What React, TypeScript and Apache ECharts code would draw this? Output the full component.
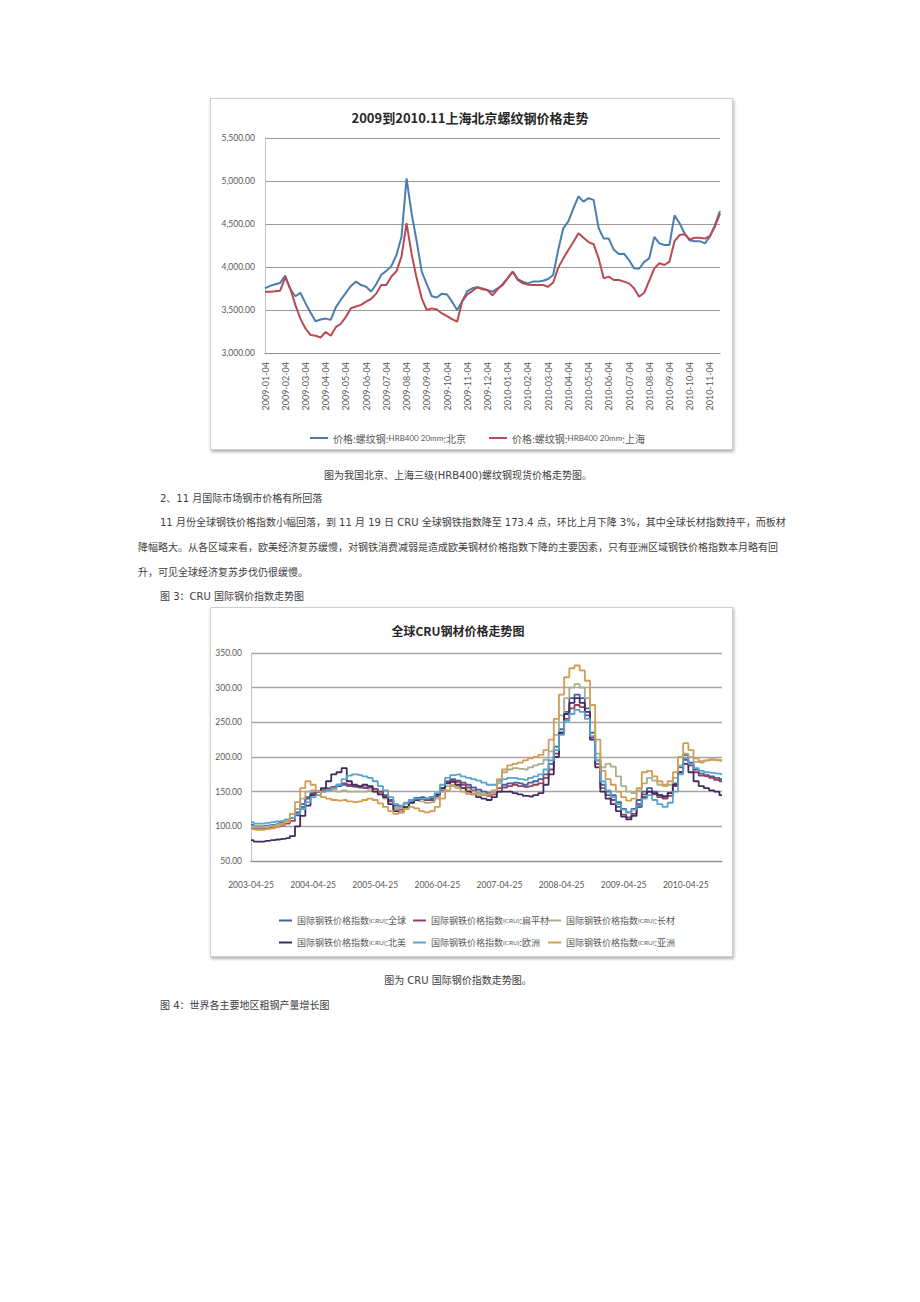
import React, { useEffect, useRef } from "react";
import * as echarts from "echarts";

// ---------- Chart 1 data: Beijing / Shanghai rebar (HRB400 20mm) ----------
const rebarMonths = [
  "2009-01", "2009-02", "2009-03", "2009-04", "2009-05", "2009-06", "2009-07", "2009-08",
  "2009-09", "2009-10", "2009-11", "2009-12", "2010-01", "2010-02", "2010-03", "2010-04",
  "2010-05", "2010-06", "2010-07", "2010-08", "2010-09", "2010-10", "2010-11",
];
const rebarWeekDays = ["04", "11", "19", "26"];
const rebarDates = rebarMonths.flatMap((m) => rebarWeekDays.map((d) => `${m}-${d}`)).slice(0, 91);

const rebarNames = ["价格:螺纹钢:HRB400 20mm:北京", "价格:螺纹钢:HRB400 20mm:上海"];

const beijing = [
  3752, 3780, 3800, 3815, 3900, 3740, 3660, 3700, 3580, 3470, 3370,
  3390, 3400, 3385, 3530, 3620, 3700, 3780, 3830, 3790, 3770,
  3715, 3800, 3910, 3955, 4010, 4140, 4350, 5030, 4620, 4300,
  3946, 3800, 3660, 3645, 3690, 3680, 3597, 3500, 3600, 3720,
  3752, 3765, 3750, 3730, 3713, 3752, 3790, 3868, 3946, 3860,
  3830, 3810, 3830, 3830, 3840, 3860, 3907, 4200, 4450, 4530,
  4682, 4820, 4760, 4800, 4780, 4450, 4330, 4330, 4200, 4150,
  4155, 4081, 3984, 3980, 4060, 4101, 4350, 4275, 4256, 4256,
  4600, 4508, 4390, 4310, 4300, 4300, 4275, 4353, 4488, 4650,
];
const shanghai = [
  3713, 3713, 3718, 3725, 3880, 3750, 3560, 3400, 3285, 3210, 3200,
  3180, 3245, 3200, 3300, 3340, 3420, 3520, 3540, 3560, 3597,
  3630, 3690, 3790, 3790, 3890, 3950, 4120, 4510, 4150, 3868,
  3636, 3500, 3519, 3505, 3460, 3430, 3395, 3364, 3600, 3680,
  3720, 3765, 3740, 3733, 3670, 3740, 3800, 3870, 3946, 3849,
  3810, 3795, 3790, 3790, 3790, 3770, 3820, 3990, 4100, 4198,
  4290, 4392, 4340, 4290, 4265, 4100, 3868, 3888, 3849, 3849,
  3830, 3810, 3752, 3655, 3700, 3840, 3984, 4043, 4023, 4062,
  4300, 4372, 4380, 4320, 4340, 4340, 4330, 4360, 4470, 4620,
];

// ---------- Chart 2 data: CRU steel price indices (monthly, 2003-04 .. 2010-11) ----------
const cruDates: string[] = [];
for (let i = 0; i < 92; i++) {
  const t = 3 + i;
  cruDates.push(`${2003 + Math.floor(t / 12)}-${String((t % 12) + 1).padStart(2, "0")}-25`);
}

const cruNames = [
  "国际钢铁价格指数(CRU):全球",
  "国际钢铁价格指数(CRU):扁平材",
  "国际钢铁价格指数(CRU):长材",
  "国际钢铁价格指数(CRU):北美",
  "国际钢铁价格指数(CRU):欧洲",
  "国际钢铁价格指数(CRU):亚洲",
];
const cruColors = ["#46619e", "#93405f", "#abae8c", "#3f2d61", "#56a5cf", "#d39c55"];

const cruGlobal = [
  102, 100, 100, 101, 102, 103, 105, 108, 112,
  120, 132, 142, 148, 150, 152, 153, 155, 158, 160, 158, 157,
  156, 155, 156, 154, 150, 145, 138, 130, 128, 132, 138, 141,
  142, 140, 140, 145, 155, 165, 168, 166, 163, 160, 156, 153,
  150, 148, 150, 155, 160, 162, 163, 162, 160, 163, 165, 168,
  175, 190, 215, 240, 265, 285, 290, 285, 270, 235, 195, 160,
  150, 145, 135, 125, 120, 125, 138, 150, 155, 150, 145, 143,
  148, 162, 185, 203, 192, 182, 176, 174, 172, 170, 168,
];
const cruFlat = [
  97, 96, 96, 97, 98, 99, 101, 104, 108,
  116, 128, 140, 147, 150, 152, 155, 157, 160, 162, 160, 158,
  157, 156, 157, 154, 150, 144, 136, 126, 124, 128, 135, 139,
  140, 138, 138, 143, 152, 163, 166, 164, 160, 156, 152, 148,
  146, 144, 146, 150, 156, 158, 160, 158, 157, 158, 160, 162,
  170, 182, 205, 235, 255, 270, 275, 272, 260, 228, 190, 155,
  145, 138, 128, 117, 113, 118, 132, 146, 150, 146, 142, 140,
  144, 158, 178, 196, 188, 178, 173, 172, 170, 167, 165,
];
const cruLong = [
  100, 99, 99, 100, 101, 102, 104, 107, 112,
  125, 140, 150, 152, 150, 150, 152, 153, 150, 152, 150, 150,
  150, 150, 152, 150, 146, 140, 132, 125, 127, 132, 136, 138,
  136, 134, 135, 140, 150, 158, 160, 158, 155, 152, 150, 148,
  146, 146, 150, 162, 178, 182, 184, 183, 182, 185, 188, 190,
  196, 208, 232, 260, 285, 300, 305, 300, 285, 250, 205, 185,
  190, 186, 172, 158, 150, 148, 152, 162, 170, 166, 160, 158,
  160, 170, 188, 205, 200, 193, 192, 195, 197, 196, 195,
];
const cruNorthAmerica = [
  80, 78, 78, 79, 80, 81, 82, 83, 86,
  100, 115, 130, 145, 150, 155, 165, 175, 178, 184, 165, 160,
  158, 160, 158, 150, 146, 142, 132, 122, 120, 128, 134, 138,
  140, 140, 142, 146, 155, 162, 164, 160, 155, 150, 146, 142,
  140, 138, 142, 150, 150, 150, 148, 146, 144, 143, 145, 148,
  160, 175, 200, 235, 262, 278, 285, 278, 265, 225, 185, 150,
  140, 132, 122, 114, 110, 115, 128, 142, 150, 148, 145, 143,
  148, 160, 178, 190, 178, 165, 158, 155, 152, 150, 145,
];
const cruEurope = [
  106, 104, 104, 105, 106, 107, 108, 110, 112,
  118, 125, 135, 142, 145, 150, 152, 155, 160, 168, 173, 175,
  174, 172, 170, 165, 158, 152, 142, 132, 130, 134, 138, 140,
  140, 140, 142, 148, 160, 170, 174, 175, 172, 170, 168, 166,
  163, 160, 160, 165, 168, 170, 170, 168, 167, 170, 172, 175,
  182, 195, 210, 232, 252, 262, 268, 265, 255, 230, 195, 165,
  152, 142, 132, 124, 120, 124, 130, 140, 145, 138, 132, 128,
  134, 150, 175, 198, 190, 184, 180, 178, 177, 176, 175,
];
const cruAsia = [
  96, 95, 95, 96, 97, 99, 102, 108, 118,
  135, 155, 165, 160, 150, 142, 140, 138, 137, 138, 136, 135,
  136, 138, 140, 138, 133, 128, 122, 118, 120, 125, 128, 126,
  122, 120, 122, 128, 140, 152, 158, 155, 150, 147, 146, 145,
  145, 146, 152, 168, 182, 188, 190, 192, 195, 198, 200, 203,
  210, 225, 255, 290, 315, 328, 332, 325, 310, 275, 225, 180,
  168, 160, 150, 142, 137, 140, 155, 178, 180, 172, 165, 160,
  165, 178, 200, 220, 210, 198, 194, 195, 196, 195, 194,
];
const cruSeries = [cruGlobal, cruFlat, cruLong, cruNorthAmerica, cruEurope, cruAsia];

const CJK = '"Noto Sans CJK SC", "Microsoft YaHei", sans-serif';
const NUM = 'Lato, "Noto Sans CJK SC", sans-serif';

function useChart(option: any) {
  const ref = useRef<HTMLDivElement>(null);
  useEffect(() => {
    if (!ref.current) return;
    const chart = echarts.init(ref.current, undefined, { renderer: "svg" });
    chart.setOption(option);
    return () => chart.dispose();
  }, []);
  return ref;
}

const rebarOption = {
  animation: false,
  graphic: [
    {
      type: "text",
      x: 259,
      y: 18,
      style: {
        text: "2009到2010.11上海北京螺纹钢价格走势",
        font: `bold 13px ${CJK}`,
        fill: "#262626",
        align: "center",
        verticalAlign: "middle",
      },
    },
  ],
  grid: { left: 54, top: 39, right: 12, height: 215 },
  legend: [0, 1].map((i) => ({
    data: [rebarNames[i]],
    left: i === 0 ? 94 : 273,
    top: 329,
    icon: "rect",
    itemWidth: 18,
    itemHeight: 2,
    itemGap: 4,
    formatter: (name: string) => name.replace("HRB400 20mm", "{s|HRB400 20mm}"),
    textStyle: {
      fontSize: 10,
      color: "#595959",
      fontFamily: CJK,
      rich: { s: { fontSize: 8, color: "#595959", fontFamily: NUM } },
    },
  })),
  xAxis: {
    type: "category",
    data: rebarDates,
    boundaryGap: false,
    axisLine: { lineStyle: { color: "#8c8c8c", width: 1.2 } },
    axisTick: { show: false },
    axisLabel: {
      interval: (i: number) => i % 4 === 0,
      rotate: 90,
      fontSize: 9,
      color: "#595959",
      margin: 9,
      fontFamily: NUM,
    },
    splitLine: { show: false },
  },
  yAxis: {
    type: "value",
    min: 3000,
    max: 5500,
    interval: 500,
    axisLine: { show: true, lineStyle: { color: "#c4c4c4" } },
    splitLine: { lineStyle: { color: "#9a9a9a", width: 1.2 } },
    axisLabel: {
      fontSize: 8.5,
      color: "#595959",
      margin: 10,
      fontFamily: NUM,
      formatter: (v: number) => v.toLocaleString("en-US", { minimumFractionDigits: 2, maximumFractionDigits: 2 }),
    },
  },
  series: [
    { name: rebarNames[0], type: "line", data: beijing, symbol: "none", color: "#4a7db0", lineStyle: { width: 2, color: "#4a7db0" } },
    { name: rebarNames[1], type: "line", data: shanghai, symbol: "none", color: "#b94a4f", lineStyle: { width: 2, color: "#b94a4f" } },
  ],
};

const cruLegendPos = [
  [63, 303], [197, 303], [332, 303],
  [63, 325], [197, 325], [332, 325],
];

const cruOption = {
  animation: false,
  graphic: [
    {
      type: "text",
      x: 247,
      y: 22,
      style: {
        text: "全球CRU钢材价格走势图",
        font: `bold 12px ${CJK}`,
        fill: "#262626",
        align: "center",
        verticalAlign: "middle",
      },
    },
  ],
  grid: { left: 40, top: 45, right: 10, height: 208 },
  legend: cruNames.map((n, i) => ({
    data: [n],
    left: cruLegendPos[i][0],
    top: cruLegendPos[i][1],
    icon: "rect",
    itemWidth: 13,
    itemHeight: 2,
    itemGap: 3,
    formatter: (name: string) => name.replace("(CRU)", "{s|(CRU)}"),
    textStyle: {
      fontSize: 9,
      color: "#595959",
      fontFamily: CJK,
      rich: { s: { fontSize: 6.5, color: "#595959", fontFamily: NUM } },
    },
  })),
  xAxis: {
    type: "category",
    data: cruDates,
    boundaryGap: false,
    axisLine: { lineStyle: { color: "#8c8c8c", width: 1.2 } },
    axisTick: { show: false },
    axisLabel: {
      interval: (i: number) => i % 12 === 0,
      fontSize: 8.5,
      color: "#595959",
      margin: 20,
      fontFamily: NUM,
    },
    splitLine: { show: false },
  },
  yAxis: {
    type: "value",
    min: 50,
    max: 350,
    interval: 50,
    axisLine: { show: true, lineStyle: { color: "#c4c4c4" } },
    splitLine: { lineStyle: { color: "#a6a6a6", width: 1.4 } },
    axisLabel: {
      fontSize: 8.5,
      color: "#595959",
      margin: 9,
      fontFamily: NUM,
      formatter: (v: number) => v.toFixed(2),
    },
  },
  series: cruNames.map((n, i) => ({
    name: n,
    type: "line",
    step: "middle",
    data: cruSeries[i],
    symbol: "none",
    color: cruColors[i],
    lineStyle: { width: 1.8, color: cruColors[i] },
  })),
};

const textFont = '"DejaVu Sans", "Noto Sans CJK SC", sans-serif';

function Line(props: { top: number; left: number; width?: number; justify?: boolean; center?: boolean; children: any }) {
  const { top, left, width, justify, center, children } = props;
  return (
    <div
      style={{
        position: "absolute",
        top,
        left,
        width,
        fontSize: 10,
        lineHeight: "14px",
        color: "#404040",
        fontFamily: textFont,
        whiteSpace: "nowrap",
        textAlign: center ? "center" : justify ? "justify" : "left",
        textAlignLast: justify ? "justify" : undefined,
      } as any}
    >
      {children}
    </div>
  );
}

export default function App() {
  const ref1 = useChart(rebarOption);
  const ref2 = useChart(cruOption);
  const boxStyle: any = {
    position: "absolute",
    left: 210,
    width: 523,
    boxSizing: "border-box",
    border: "1px solid #cfcfcf",
    boxShadow: "1px 2px 3px rgba(0,0,0,0.3)",
    background: "#fff",
  };
  return (
    <div style={{ position: "absolute", left: 0, top: 0, width: 920, height: 1302, background: "#fff", overflow: "hidden" }}>
      <div ref={ref1} style={{ ...boxStyle, top: 98, height: 352 }} />
      <Line top={469} left={138} width={640} center>图为我国北京、上海三级(HRB400)螺纹钢现货价格走势图。</Line>
      <Line top={492} left={160}>2、11 月国际市场钢市价格有所回落</Line>
      <Line top={516} left={160} width={617} justify>
        11 月份全球钢铁价格指数小幅回落，到 11 月 19 日 CRU 全球钢铁指数降至 173.4 点，环比上月下降 3%，其中全球长材指数持平，而板材
      </Line>
      <Line top={541} left={138} width={639} justify>
        降幅略大。从各区域来看，欧美经济复苏缓慢，对钢铁消费减弱是造成欧美钢材价格指数下降的主要因素，只有亚洲区域钢铁价格指数本月略有回
      </Line>
      <Line top={566} left={138}>升，可见全球经济复苏步伐仍很缓慢。</Line>
      <Line top={590} left={160}>图 3：CRU 国际钢价指数走势图</Line>
      <div ref={ref2} style={{ ...boxStyle, top: 607, height: 350 }} />
      <Line top={974} left={138} width={640} center>图为 CRU 国际钢价指数走势图。</Line>
      <Line top={999} left={160}>图 4：世界各主要地区粗钢产量增长图</Line>
    </div>
  );
}
